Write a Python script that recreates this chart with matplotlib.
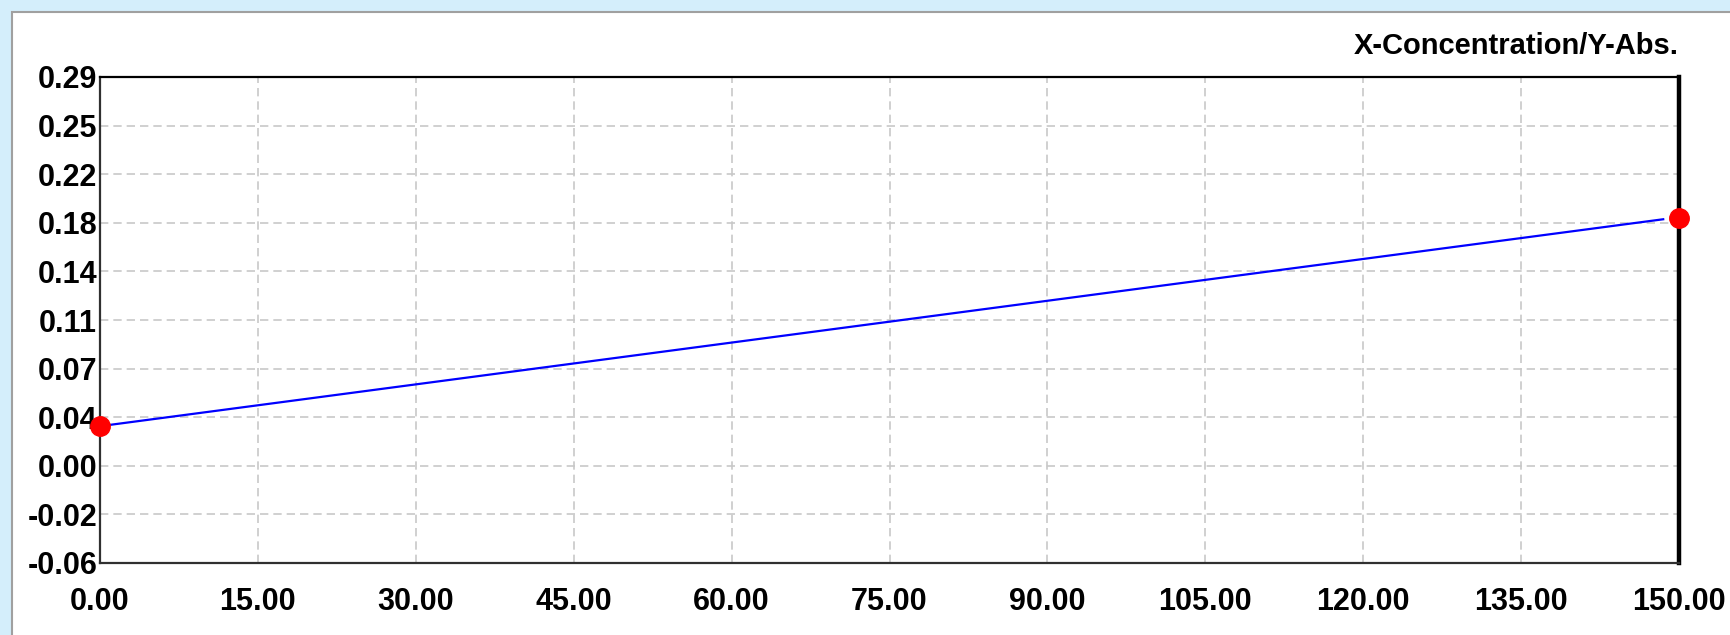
import matplotlib.pyplot as plt
from matplotlib.patches import Rectangle

# measured points (concentration, absorbance)
conc = [0.0, 150.0]
absb = [0.036, 0.189]

# fitted line as drawn by the instrument
fit_x = [0.0, 148.5]
fit_y = [0.036, 0.188]

x_ticks = [0, 15, 30, 45, 60, 75, 90, 105, 120, 135, 150]
x_labels = ['0.00', '15.00', '30.00', '45.00', '60.00', '75.00', '90.00',
            '105.00', '120.00', '135.00', '150.00']
y_min, y_max = -0.0645, 0.2925
y_labels = ['-0.06', '-0.02', '0.00', '0.04', '0.07', '0.11', '0.14',
            '0.18', '0.22', '0.25', '0.29']

plt.rcParams['font.family'] = ['Liberation Sans', 'DejaVu Sans']

fig = plt.figure(figsize=(17.31, 6.35), dpi=100)
fig.patch.set_facecolor('#d4eefb')

# white panel with grey frame
panel = Rectangle((12 / 1731, -0.05), 1.2, 1.05 - 12 / 635,
                  transform=fig.transFigure, facecolor='white',
                  edgecolor='#a0a0a0', linewidth=1.5, zorder=-10)
fig.patches.append(panel)

ax = fig.add_axes([100 / 1731, 1 - 563 / 635, (1679 - 100) / 1731, (563 - 77) / 635])
ax.set_facecolor('white')

ax.plot(fit_x, fit_y, color='#0000ff', linewidth=1.6, zorder=3)
ax.plot(conc, absb, linestyle='none', marker='o', markersize=14,
        color='#ff0000', zorder=4, clip_on=False)

ax.set_xlim(0, 150)
ax.set_ylim(y_min, y_max)

step = (y_max - y_min) / (len(y_labels) - 1)
y_ticks = [y_min + i * step for i in range(len(y_labels))]

ax.set_xticks(x_ticks)
ax.set_xticklabels(x_labels, fontsize=22, fontweight='bold')
ax.set_yticks(y_ticks)
ax.set_yticklabels(y_labels, fontsize=22, fontweight='bold')
ax.tick_params(axis='both', length=0)
ax.tick_params(axis='x', pad=17)
ax.tick_params(axis='y', pad=2)

# dashed grid on interior ticks only
for xv in x_ticks[1:-1]:
    ax.axvline(xv, color='#c8c8c8', linestyle=(0, (5, 3)), linewidth=1.2, zorder=1)
for yv in y_ticks[1:-1]:
    ax.axhline(yv, color='#c8c8c8', linestyle=(0, (5, 3)), linewidth=1.2, zorder=1)

for side in ['left', 'bottom']:
    ax.spines[side].set_color('#303030')
    ax.spines[side].set_linewidth(1.6)
ax.spines['top'].set_color('black')
ax.spines['top'].set_linewidth(1.6)
ax.spines['right'].set_color('black')
ax.spines['right'].set_linewidth(3.2)

ax.text(1.0, 1.035, 'X-Concentration/Y-Abs.', transform=ax.transAxes,
        ha='right', va='bottom', fontsize=21, fontweight='bold', color='black')

fig.savefig('out.png', dpi=100, facecolor=fig.get_facecolor())
